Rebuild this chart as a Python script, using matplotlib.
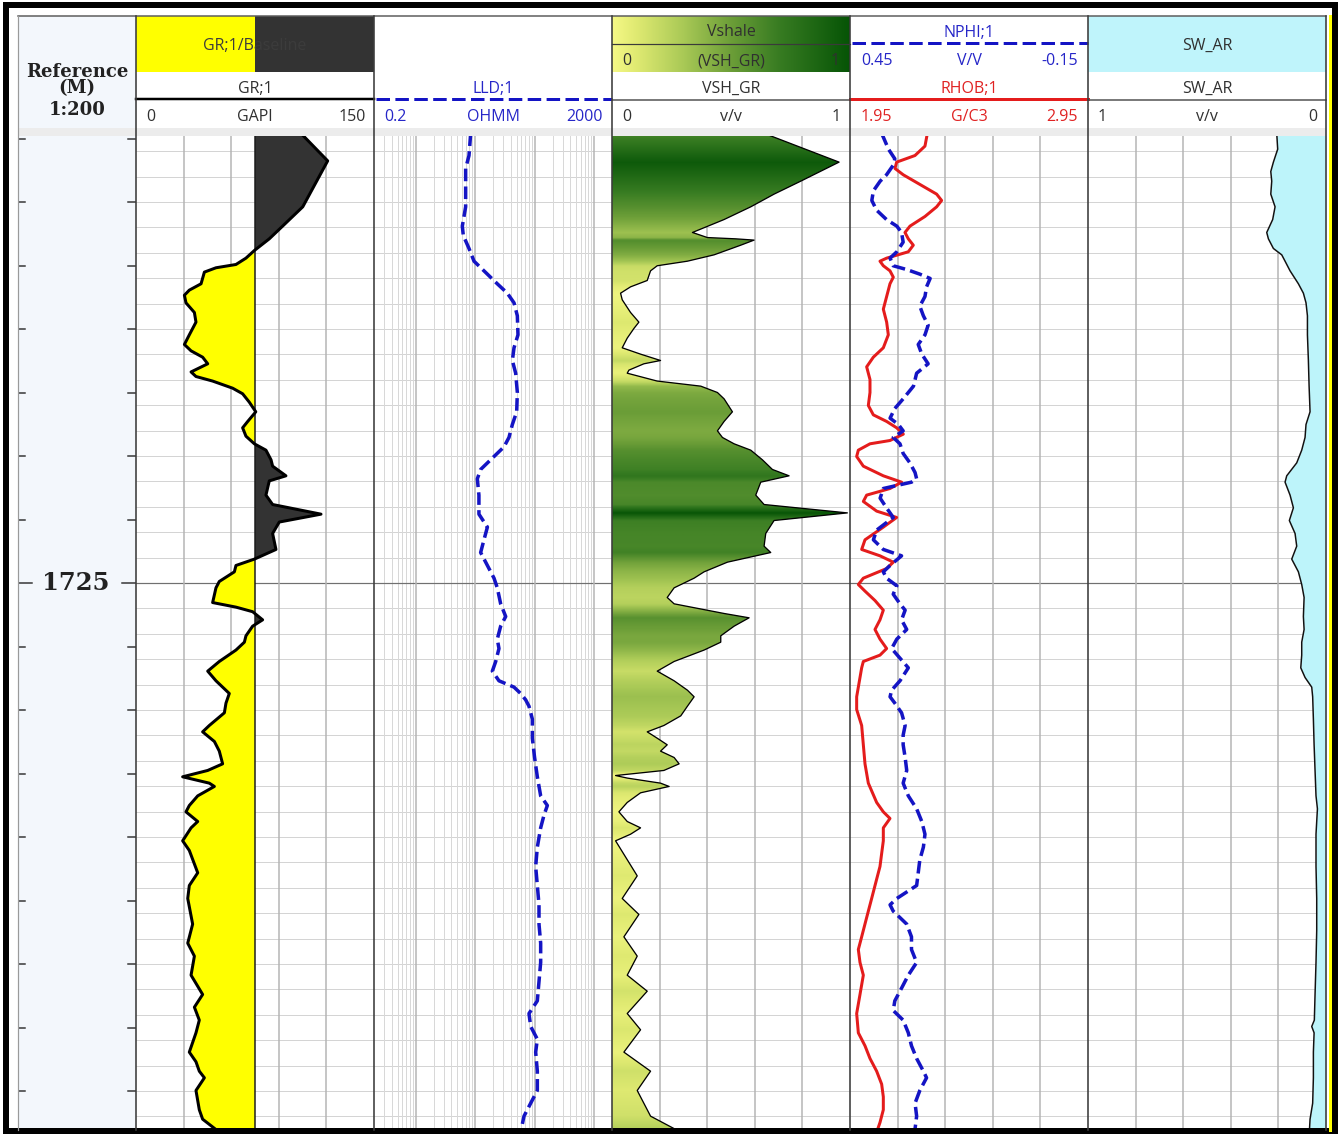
import numpy as np
import matplotlib.pyplot as plt
from matplotlib.colors import LinearSegmentedColormap
from matplotlib.patches import Rectangle, Polygon

# Courbes diagraphiques (profondeur en m)
gr_depth = [1707.30, 1708.38, 1710.19, 1710.95, 1711.45, 1711.91, 1712.21, 1712.46, 1712.59, 1712.76,
            1713.22, 1713.47, 1713.67, 1713.97, 1714.35, 1714.73, 1715.23, 1715.61, 1715.86, 1716.11,
            1716.37, 1716.69, 1716.87, 1717.05, 1717.33, 1717.55, 1717.88, 1718.26, 1718.64, 1718.89,
            1719.22, 1719.52, 1719.77, 1720.15, 1720.40, 1720.78, 1720.98, 1721.54, 1721.91, 1722.29,
            1722.60, 1723.05, 1723.68, 1724.06, 1724.31, 1724.56, 1724.94, 1725.19, 1725.77, 1725.95,
            1726.13, 1726.45, 1726.70, 1727.08, 1727.33, 1727.64, 1728.09, 1728.47, 1728.85, 1729.35,
            1729.73, 1730.11, 1730.61, 1730.86, 1731.24, 1731.62, 1732.12, 1732.38, 1732.63, 1732.88,
            1733.01, 1733.38, 1733.76, 1734.01, 1734.39, 1734.64, 1735.15, 1735.53, 1736.41, 1736.91,
            1737.42, 1738.43, 1739.18, 1739.69, 1740.44, 1741.20, 1741.70, 1742.21, 1742.71, 1743.47,
            1743.85, 1744.22, 1744.48, 1744.98, 1745.74, 1746.11, 1746.62]
gr_api = [104.0, 120.8, 105.1, 92.4, 84.0, 74.6, 69.3, 63.0, 50.4, 43.1,
          41.0, 33.6, 30.5, 31.5, 36.8, 37.8, 33.6, 30.5, 34.7, 42.0,
          45.2, 34.7, 37.8, 48.3, 60.9, 67.2, 71.4, 75.5, 70.4, 67.2,
          69.3, 74.6, 81.9, 85.1, 86.1, 94.5, 84.0, 81.9, 86.1, 116.6,
          90.3, 86.1, 88.2, 74.6, 63.0, 62.0, 52.5, 50.4, 48.3, 63.0,
          73.5, 79.8, 73.5, 69.3, 68.3, 63.0, 52.5, 45.2, 50.4, 58.8,
          56.7, 55.7, 46.2, 42.0, 49.4, 52.5, 54.6, 45.2, 29.4, 46.2,
          49.4, 38.9, 33.6, 31.5, 38.9, 34.7, 29.4, 33.6, 38.9, 33.6,
          32.6, 35.7, 32.6, 36.8, 34.7, 42.0, 36.8, 39.9, 37.8, 33.6,
          37.8, 39.9, 43.1, 37.8, 39.9, 42.0, 52.5]

lld_depth = [1707.30, 1708.17, 1708.68, 1709.43, 1710.19, 1710.95, 1711.32, 1711.83, 1712.33, 1712.71,
             1713.22, 1713.59, 1713.97, 1714.48, 1715.23, 1715.74, 1716.24, 1716.74, 1717.50, 1718.26,
             1718.76, 1719.27, 1719.64, 1720.02, 1720.53, 1720.90, 1721.54, 1722.29, 1722.80, 1723.30,
             1723.80, 1724.31, 1724.81, 1725.19, 1725.82, 1726.32, 1726.70, 1727.21, 1727.58, 1728.09,
             1728.47, 1728.85, 1729.10, 1729.35, 1729.60, 1729.85, 1730.36, 1731.11, 1731.87, 1732.63,
             1733.38, 1733.76, 1734.14, 1734.64, 1735.40, 1736.16, 1736.91, 1737.67, 1738.43, 1739.18,
             1739.94, 1740.69, 1741.45, 1741.95, 1742.46, 1742.96, 1743.47, 1744.22, 1744.98, 1745.48,
             1745.99, 1746.62]
lld_ohmm = [8.43, 7.90, 6.94, 6.94, 6.94, 6.10, 6.34, 7.90, 9.59, 14.1,
            23.6, 34.8, 45.1, 51.3, 52.6, 45.1, 42.3, 48.1, 51.3, 50.0,
            42.3, 37.1, 30.6, 20.8, 12.4, 10.9, 11.6, 11.6, 16.1, 14.1,
            12.4, 16.1, 20.8, 23.6, 26.9, 32.7, 26.9, 23.6, 25.2, 22.2,
            19.5, 25.2, 45.1, 58.3, 70.8, 80.5, 91.7, 91.7, 100.0, 111.2,
            126.5, 163.8, 143.9, 126.5, 111.2, 104.3, 111.2, 118.6, 118.6, 126.5,
            126.5, 118.6, 111.2, 80.5, 86.0, 111.2, 104.3, 111.2, 111.2, 86.0,
            66.4, 58.3]

vsh_depth = [1707.30, 1708.43, 1709.18, 1709.69, 1710.19, 1710.69, 1711.20, 1711.40, 1711.45, 1711.50,
             1711.70, 1712.08, 1712.33, 1712.51, 1712.71, 1713.09, 1713.34, 1713.59, 1713.85, 1714.35,
             1714.73, 1714.98, 1715.36, 1715.74, 1715.99, 1716.24, 1716.37, 1716.62, 1716.74, 1717.05,
             1717.25, 1717.50, 1717.75, 1718.26, 1718.64, 1719.01, 1719.27, 1719.52, 1719.77, 1720.15,
             1720.53, 1720.78, 1721.03, 1721.54, 1721.91, 1722.24, 1722.54, 1723.05, 1723.55, 1723.80,
             1724.18, 1724.56, 1724.81, 1725.19, 1725.57, 1725.82, 1726.20, 1726.37, 1726.70, 1727.08,
             1727.33, 1727.64, 1728.09, 1728.47, 1728.85, 1729.22, 1729.48, 1729.85, 1730.23, 1730.61,
             1730.86, 1731.11, 1731.37, 1731.62, 1731.87, 1732.12, 1732.38, 1732.58, 1732.68, 1732.88,
             1733.01, 1733.26, 1733.64, 1734.01, 1734.39, 1734.64, 1734.89, 1735.15, 1736.53, 1737.42,
             1738.05, 1738.93, 1739.69, 1740.44, 1741.07, 1741.95, 1742.59, 1743.47, 1744.22, 1744.98,
             1745.99, 1746.62]
vsh_vv = [0.640, 0.954, 0.793, 0.681, 0.583, 0.471, 0.338, 0.401, 0.520, 0.597,
          0.541, 0.429, 0.317, 0.190, 0.162, 0.148, 0.078, 0.036, 0.043, 0.078,
          0.113, 0.092, 0.064, 0.043, 0.120, 0.204, 0.134, 0.071, 0.064, 0.190,
          0.373, 0.443, 0.471, 0.506, 0.471, 0.443, 0.464, 0.513, 0.583, 0.632,
          0.674, 0.744, 0.625, 0.604, 0.639, 0.989, 0.681, 0.646, 0.639, 0.667,
          0.485, 0.387, 0.345, 0.261, 0.232, 0.261, 0.471, 0.576, 0.513, 0.457,
          0.457, 0.387, 0.261, 0.190, 0.261, 0.317, 0.345, 0.317, 0.289, 0.218,
          0.148, 0.190, 0.232, 0.204, 0.261, 0.282, 0.218, 0.015, 0.064, 0.204,
          0.240, 0.120, 0.064, 0.029, 0.064, 0.120, 0.078, 0.015, 0.106, 0.043,
          0.113, 0.050, 0.106, 0.064, 0.148, 0.064, 0.120, 0.050, 0.162, 0.106,
          0.162, 0.289]

nphi_depth = [1707.30, 1707.92, 1708.30, 1708.55, 1708.93, 1709.18, 1709.56, 1709.94, 1710.32, 1710.69,
              1710.95, 1711.20, 1711.58, 1711.96, 1712.21, 1712.51, 1712.66, 1712.84, 1713.01, 1713.34,
              1713.72, 1714.10, 1714.48, 1714.85, 1715.23, 1715.61, 1715.99, 1716.37, 1716.74, 1717.25,
              1717.75, 1718.13, 1718.51, 1718.76, 1719.01, 1719.27, 1719.52, 1719.90, 1720.27, 1720.65,
              1720.90, 1721.03, 1721.28, 1721.66, 1722.04, 1722.42, 1722.67, 1722.92, 1723.30, 1723.68,
              1723.93, 1724.31, 1724.56, 1724.81, 1725.11, 1725.44, 1725.82, 1726.07, 1726.45, 1726.83,
              1727.21, 1727.58, 1727.96, 1728.34, 1728.85, 1729.22, 1729.48, 1729.73, 1730.11, 1730.61,
              1730.99, 1731.37, 1731.87, 1732.38, 1732.88, 1733.38, 1733.89, 1734.39, 1734.89, 1735.40,
              1735.90, 1736.41, 1736.91, 1737.42, 1737.67, 1737.92, 1738.43, 1738.93, 1739.43, 1739.94,
              1740.44, 1740.95, 1741.45, 1741.83, 1742.21, 1742.71, 1743.22, 1743.72, 1744.22, 1744.48,
              1744.98, 1745.48, 1745.99, 1746.49, 1746.70]
nphi_vv = [0.370, 0.353, 0.337, 0.341, 0.358, 0.374, 0.391, 0.395, 0.383, 0.358,
           0.332, 0.320, 0.316, 0.332, 0.349, 0.341, 0.307, 0.274, 0.248, 0.257,
           0.261, 0.274, 0.265, 0.253, 0.261, 0.278, 0.269, 0.253, 0.282, 0.290,
           0.316, 0.337, 0.349, 0.328, 0.316, 0.341, 0.324, 0.316, 0.299, 0.286,
           0.282, 0.295, 0.366, 0.374, 0.358, 0.341, 0.362, 0.383, 0.391, 0.366,
           0.320, 0.349, 0.366, 0.358, 0.332, 0.341, 0.324, 0.311, 0.320, 0.307,
           0.332, 0.345, 0.324, 0.303, 0.324, 0.345, 0.349, 0.337, 0.320, 0.311,
           0.316, 0.316, 0.311, 0.307, 0.316, 0.303, 0.282, 0.269, 0.261, 0.265,
           0.274, 0.278, 0.282, 0.332, 0.349, 0.341, 0.307, 0.295, 0.295, 0.282,
           0.303, 0.320, 0.337, 0.341, 0.316, 0.303, 0.295, 0.282, 0.265, 0.257,
           0.274, 0.286, 0.282, 0.286, 0.290]

rhob_depth = [1707.30, 1707.80, 1708.17, 1708.43, 1708.68, 1708.93, 1709.31, 1709.69, 1709.94, 1710.19,
              1710.57, 1710.95, 1711.20, 1711.45, 1711.70, 1711.96, 1712.21, 1712.33, 1712.51, 1712.71,
              1712.96, 1713.22, 1713.72, 1714.22, 1714.73, 1715.23, 1715.74, 1716.11, 1716.49, 1716.99,
              1717.50, 1718.01, 1718.38, 1718.64, 1718.89, 1719.14, 1719.39, 1719.52, 1719.77, 1720.02,
              1720.40, 1720.78, 1721.03, 1721.28, 1721.54, 1721.79, 1722.17, 1722.42, 1722.80, 1723.30,
              1723.68, 1723.93, 1724.18, 1724.43, 1724.81, 1725.06, 1725.32, 1725.69, 1726.07, 1726.45,
              1726.83, 1727.21, 1727.58, 1727.84, 1728.09, 1728.34, 1728.72, 1729.10, 1729.48, 1729.98,
              1730.61, 1731.37, 1732.12, 1732.88, 1733.64, 1734.01, 1734.27, 1734.64, 1735.15, 1735.65,
              1736.16, 1736.66, 1737.42, 1738.17, 1738.93, 1739.43, 1739.94, 1740.44, 1741.20, 1741.95,
              1742.71, 1743.22, 1743.72, 1744.22, 1744.73, 1745.23, 1745.74, 1746.24, 1746.62]
rhob_gcc = [2.275, 2.265, 2.223, 2.146, 2.139, 2.174, 2.244, 2.314, 2.335, 2.314,
            2.265, 2.202, 2.181, 2.195, 2.216, 2.195, 2.104, 2.076, 2.090, 2.118,
            2.132, 2.118, 2.104, 2.090, 2.104, 2.111, 2.090, 2.048, 2.020, 2.034,
            2.034, 2.027, 2.048, 2.104, 2.146, 2.174, 2.118, 2.034, 1.985, 1.978,
            2.006, 2.090, 2.167, 2.118, 2.020, 2.006, 2.062, 2.146, 2.090, 2.013,
            1.999, 2.076, 2.132, 2.104, 2.006, 1.985, 2.013, 2.055, 2.090, 2.076,
            2.055, 2.076, 2.104, 2.076, 2.006, 1.999, 1.992, 1.985, 1.978, 1.978,
            1.999, 2.006, 2.013, 2.027, 2.062, 2.090, 2.118, 2.090, 2.090, 2.083,
            2.076, 2.062, 2.041, 2.020, 1.999, 1.985, 1.992, 2.006, 1.992, 1.978,
            1.985, 2.013, 2.034, 2.062, 2.083, 2.090, 2.090, 2.076, 2.062]

sw_depth = [1707.30, 1707.92, 1708.43, 1708.80, 1709.18, 1709.69, 1710.19, 1710.69, 1711.20, 1711.45,
            1711.83, 1712.08, 1712.33, 1712.71, 1713.22, 1713.59, 1713.97, 1714.48, 1715.23, 1716.24,
            1717.25, 1718.26, 1718.76, 1719.27, 1719.77, 1720.27, 1720.78, 1721.03, 1721.54, 1722.04,
            1722.54, 1723.05, 1723.55, 1724.06, 1724.56, 1725.06, 1725.57, 1726.32, 1726.83, 1727.33,
            1727.84, 1728.34, 1728.72, 1729.10, 1729.48, 1730.36, 1731.37, 1732.38, 1733.38, 1733.89,
            1734.89, 1736.16, 1737.42, 1738.68, 1739.94, 1741.20, 1742.21, 1742.46, 1742.71, 1743.47,
            1744.48, 1745.48, 1746.11, 1746.62]
sw_vv = [0.207, 0.203, 0.221, 0.232, 0.228, 0.232, 0.214, 0.224, 0.249, 0.242,
         0.221, 0.186, 0.172, 0.151, 0.116, 0.095, 0.084, 0.078, 0.078, 0.074,
         0.071, 0.067, 0.084, 0.088, 0.102, 0.123, 0.165, 0.172, 0.151, 0.137,
         0.154, 0.130, 0.123, 0.144, 0.116, 0.102, 0.092, 0.095, 0.092, 0.102,
         0.102, 0.106, 0.088, 0.060, 0.056, 0.053, 0.050, 0.046, 0.042, 0.036,
         0.042, 0.042, 0.039, 0.039, 0.042, 0.046, 0.049, 0.060, 0.050, 0.053,
         0.053, 0.056, 0.067, 0.070]

# echelles des pistes
gr_scale = (0, 150)
gr_baseline = 75
lld_scale = (0.2, 2000)
vsh_scale = (0, 1)
nphi_scale = (0.45, -0.15)
rhob_scale = (1.95, 2.95)
sw_scale = (1, 0)
depth_label = 1725

# ---------------------------------------------------------------
W, H = 1340, 1134
TOP, BOT = 136, 1130               # lignes pixel du corps des pistes
d_top = depth_label - (583 - TOP) / 25.4
d_bot = depth_label + (BOT - 583) / 25.4
edges = [136, 374, 612, 850, 1088, 1326]

FONT = ['Open Sans', 'DejaVu Sans']
TXT = '#303030'
BLUE = '#2626c8'
RED = '#e02222'
CURVE_BLUE = '#1414c4'
CURVE_RED = '#e41c1c'
GRID = '#d4d4d4'
GRID_V = '#b4b4b4'
DASH = (0, (3.6, 1.5))


def pt(p):
    # pixels -> points (100 dpi)
    return p * 0.72


vsh_cmap = LinearSegmentedColormap.from_list(
    'vsh', [(0, '#f5f886'), (0.1, '#e0ea72'), (0.3, '#a9c956'),
            (0.5, '#6c9e38'), (0.7, '#387c22'), (1.0, '#065406')])

fig = plt.figure(figsize=(W / 100, H / 100), dpi=100)
fig.patch.set_facecolor('white')

# fond en pixels pour l'entete
bg = fig.add_axes([0, 0, 1, 1])
bg.axis('off')


def htext(x, y, s, color=TXT, ha='center', size=11.5, **kw):
    bg.text(x, y + 2, s, ha=ha, va='center', fontsize=size, color=color, family=FONT, **kw)


# colonne profondeur + bande grise
bg.add_patch(Rectangle((18, 16), 118, BOT - 16, fc='#f3f7fc', ec='none'))
bg.add_patch(Rectangle((18, 128), 1308, 8, fc='#ececec', ec='none', zorder=3))
bg.plot([18, 1326], [16, 16], color='#5a5a5a', lw=pt(1.5))

# GR
bg.add_patch(Rectangle((136, 16), 119, 56, fc='#ffff00', ec='none'))
bg.add_patch(Rectangle((255, 16), 119, 56, fc='#333333', ec='none'))
htext(255, 44, 'GR;1/Baseline', color='#3c3c3c')
htext(255, 87, 'GR;1')
bg.plot([136, 374], [99, 99], color='black', lw=pt(2.5))
htext(146, 115, '0', ha='left')
htext(255, 115, 'GAPI')
htext(366, 115, '150', ha='right')

# LLD
htext(493, 87, 'LLD;1', color=BLUE)
bg.plot([376, 612], [99, 99], color=CURVE_BLUE, lw=pt(3), ls=(0, (4.5, 1.8)))
htext(384, 115, '0.2', color=BLUE, ha='left')
htext(493, 115, 'OHMM', color=BLUE)
htext(603, 115, '2000', color=BLUE, ha='right')

# VSH
bg.imshow(np.linspace(0, 1, 256)[None, :], cmap=vsh_cmap, extent=[612, 850, 72, 16],
          aspect='auto', interpolation='bilinear')
bg.plot([612, 850], [44, 44], color='#3a3a3a', lw=pt(1.2))
htext(731, 30, 'Vshale')
htext(622, 59, '0', ha='left')
htext(731, 59, '(VSH_GR)')
htext(840, 59, '1', ha='right')
htext(731, 87, 'VSH_GR')
bg.plot([612, 850], [100, 100], color='#505050', lw=pt(1.5))
htext(622, 115, '0', ha='left')
htext(731, 115, 'v/v')
htext(841, 115, '1', ha='right')

# NPHI / RHOB
htext(969, 31, 'NPHI;1', color=BLUE)
bg.plot([852, 1088], [43, 43], color=CURVE_BLUE, lw=pt(3), ls=(0, (4.5, 1.8)))
htext(861, 59, '0.45', color=BLUE, ha='left')
htext(969, 59, 'V/V', color=BLUE)
htext(1078, 59, '-0.15', color=BLUE, ha='right')
htext(969, 87, 'RHOB;1', color=RED)
bg.plot([850, 1088], [99, 99], color=CURVE_RED, lw=pt(3))
htext(861, 115, '1.95', color=RED, ha='left')
htext(969, 115, 'G/C3', color=RED)
htext(1078, 115, '2.95', color=RED, ha='right')

# SW
bg.add_patch(Rectangle((1088, 16), 238, 56, fc='#bff4fb', ec='none'))
htext(1207, 44, 'SW_AR')
htext(1207, 87, 'SW_AR')
bg.plot([1088, 1326], [100, 100], color='#505050', lw=pt(1.5))
htext(1098, 115, '1', ha='left')
htext(1207, 115, 'v/v')
htext(1317, 115, '0', ha='right')

# colonne reference
for s, y in [('Reference', 72), ('(M)', 88), ('1:200', 110)]:
    bg.text(77, y, s, ha='center', va='center', fontsize=13, fontweight='bold',
            family='DejaVu Serif', color='#222222')

bg.set_xlim(0, W)
bg.set_ylim(H, 0)


def track(x0, x1):
    ax = fig.add_axes([x0 / W, 1 - BOT / H, (x1 - x0) / W, (BOT - TOP) / H])
    ax.set_xticks([])
    ax.set_yticks([])
    for s in ax.spines.values():
        s.set_visible(False)
    for d in np.arange(1708, 1747):
        ax.axhline(d, color=GRID, lw=pt(1), zorder=0)
    ax.axhline(depth_label, color='#707070', lw=pt(1.2), zorder=0.5)
    return ax


# piste profondeur
axd = fig.add_axes([18 / W, 1 - BOT / H, 118 / W, (BOT - TOP) / H])
axd.axis('off')
for d in np.arange(1707.5, d_bot, 2.5):
    if d == depth_label:
        axd.plot([18, 32], [d, d], color='#333333', lw=pt(1.5))
        axd.plot([122, 136], [d, d], color='#333333', lw=pt(1.5))
    else:
        axd.plot([18, 25], [d, d], color='#333333', lw=pt(1.5))
        axd.plot([128, 136], [d, d], color='#333333', lw=pt(1.5))
axd.text(76, depth_label, str(depth_label), ha='center', va='center', fontsize=17.5,
         fontweight='bold', family='DejaVu Serif', color='#222222')
axd.set_xlim(18, 136)
axd.set_ylim(d_bot, d_top)

# piste GR
ax = track(136, 374)
for v in [30, 60, 90, 120]:
    ax.axvline(v, color=GRID_V, lw=pt(1.5), zorder=0.6)
g = np.array(gr_api)
ax.fill_betweenx(gr_depth, g, gr_baseline, where=g <= gr_baseline, interpolate=True,
                 color='#ffff00', lw=0, zorder=1)
ax.fill_betweenx(gr_depth, g, gr_baseline, where=g >= gr_baseline, interpolate=True,
                 color='#333333', lw=0, zorder=1)
ax.axvline(gr_baseline, color='#1a1a1a', lw=pt(1.5), zorder=2)
ax.plot(gr_api, gr_depth, color='black', lw=pt(3), zorder=3)
ax.set_xlim(*gr_scale)
ax.set_ylim(d_bot, d_top)

# piste LLD (log)
ax = track(374, 612)
ax.set_xscale('log')
ax.set_xticks([])
ax.minorticks_off()
for dec in [0.1, 1, 10, 100, 1000]:
    for m in range(2, 10):
        v = dec * m
        if lld_scale[0] < v < lld_scale[1]:
            ax.axvline(v, color='#d8d8d8', lw=pt(1), zorder=0.2)
for v in [1, 10, 100, 1000]:
    ax.axvline(v, color=GRID_V, lw=pt(1.5), zorder=0.6)
ax.plot(lld_ohmm, lld_depth, color=CURVE_BLUE, lw=pt(3.5), ls=DASH, zorder=3)
ax.set_xlim(*lld_scale)
ax.set_ylim(d_bot, d_top)

# piste VSH, remplissage en degrade
ax = track(612, 850)
for v in [0.2, 0.4, 0.6, 0.8]:
    ax.axvline(v, color=GRID_V, lw=pt(1.5), zorder=0.6)
fine = np.linspace(d_top, d_bot, 1600)
shade = np.interp(fine, vsh_depth, vsh_vv)
im = ax.imshow(shade[:, None], cmap=vsh_cmap, vmin=0, vmax=1, aspect='auto',
               extent=[0, 1, d_bot, d_top], interpolation='bilinear', zorder=1)
verts = np.column_stack([np.r_[vsh_vv, 0, 0], np.r_[vsh_depth, vsh_depth[-1], vsh_depth[0]]])
clip = Polygon(verts, closed=True, fc='none', ec='none', transform=ax.transData)
ax.add_patch(clip)
im.set_clip_path(clip)
ax.plot(vsh_vv, vsh_depth, color='black', lw=pt(1.3), zorder=3)
ax.set_xlim(*vsh_scale)
ax.set_ylim(d_bot, d_top)

# piste NPHI / RHOB
ax = track(850, 1088)
for v in [2.15, 2.35, 2.55, 2.75]:
    ax.axvline(v, color=GRID_V, lw=pt(1.5), zorder=0.6)
ax.plot(rhob_gcc, rhob_depth, color=CURVE_RED, lw=pt(3), zorder=3)
ax.set_xlim(*rhob_scale)
ax.set_ylim(d_bot, d_top)
axn = ax.twiny()
axn.axis('off')
axn.plot(nphi_vv, nphi_depth, color=CURVE_BLUE, lw=pt(3.5), ls=DASH, zorder=4)
axn.set_xlim(*nphi_scale)
axn.set_ylim(d_bot, d_top)

# piste SW
ax = track(1088, 1326)
for v in [0.8, 0.6, 0.4, 0.2]:
    ax.axvline(v, color=GRID_V, lw=pt(1.5), zorder=0.6)
ax.fill_betweenx(sw_depth, sw_vv, 0, color='#bdf4fa', lw=0, zorder=1)
ax.plot(sw_vv, sw_depth, color='#111111', lw=pt(1.5), zorder=3)
ax.set_xlim(*sw_scale)
ax.set_ylim(d_bot, d_top)

# cadre et separateurs par-dessus
fr = fig.add_axes([0, 0, 1, 1])
fr.patch.set_alpha(0)
fr.axis('off')
fr.plot([18, 18], [16, BOT], color='#9a9a9a', lw=pt(1.2))
for x in edges:
    fr.plot([x, x], [16, BOT], color='#3c3c3c', lw=pt(1.6))
fr.plot([1329.5, 1329.5], [16, BOT], color='#ffff00', lw=pt(3))
fr.add_patch(Rectangle((6, 5), 1329, 1126, fc='none', ec='black', lw=pt(6)))
fr.set_xlim(0, W)
fr.set_ylim(H, 0)

fig.savefig('out.png', dpi=100)
